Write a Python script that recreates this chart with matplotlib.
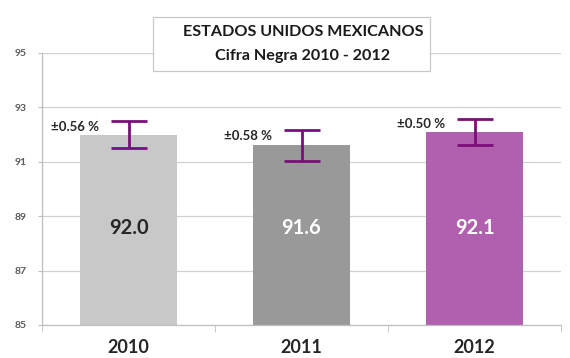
import matplotlib.pyplot as plt
from matplotlib.patches import FancyBboxPatch

years = ["2010", "2011", "2012"]
values = [92.0, 91.6, 92.1]
errors = [0.50, 0.56, 0.48]
error_labels = ["±0.56 %", "±0.58 %", "±0.50 %"]
bar_colors = ["#C8C8C8", "#999999", "#B160B0"]
value_colors = ["#262626", "white", "white"]
yticks = [85, 87, 89, 91, 93, 95]

plt.rcParams["font.family"] = ["Lato", "DejaVu Sans"]

fig = plt.figure(figsize=(5.7, 3.58), dpi=100)
ax = fig.add_axes([42 / 570, 1 - 325 / 358, 519 / 570, 272 / 358])

x = list(range(len(years)))
ax.bar(x, [v - 85 for v in values], bottom=85, width=0.555, color=bar_colors, zorder=2)
ax.errorbar(x, values, yerr=errors, fmt="none", ecolor="#7A0F7A",
            elinewidth=2, capsize=13, capthick=2, zorder=3)

for xi, v, e, lab, c in zip(x, values, errors, error_labels, value_colors):
    ax.annotate(lab, (xi, v + e), xytext=(-21, -4), textcoords="offset points",
                ha="right", va="center", fontsize=9.5, fontweight="bold", color="#262626")
    ax.text(xi, 88.57, f"{v:.1f}", ha="center", va="center",
            fontsize=14.5, fontweight="bold", color=c, zorder=4)

ax.set_xlim(-0.5, 2.5)
ax.set_ylim(85, 95)
ax.set_yticks(yticks)
ax.set_yticklabels([str(t) for t in yticks], fontsize=7.5, fontweight="bold", color="#595959")
ax.tick_params(axis="y", length=3, color="#BFBFBF", pad=8)
ax.grid(axis="y", color="#D0D0D0", linewidth=0.9, zorder=0)

ax.set_xticks(x)
ax.set_xticklabels(years, fontsize=13, fontweight="bold", color="#262626")
ax.tick_params(axis="x", length=0, pad=10)
ax.set_xticks([-0.5, 0.5, 1.5, 2.5], minor=True)
ax.tick_params(axis="x", which="minor", length=5, color="#BFBFBF")

for side in ["top", "right"]:
    ax.spines[side].set_visible(False)
for side in ["left", "bottom"]:
    ax.spines[side].set_color("#BFBFBF")
    ax.spines[side].set_linewidth(0.9)

box = FancyBboxPatch((153 / 570, 1 - 71 / 358), 277 / 570, 54 / 358,
                     boxstyle="square,pad=0", transform=fig.transFigure,
                     facecolor="white", edgecolor="#C8C8C8", linewidth=0.9, zorder=5)
fig.patches.append(box)
fig.text(303 / 570, 1 - 32 / 358, "ESTADOS UNIDOS MEXICANOS", ha="center", va="center",
         fontsize=11.6, fontweight="bold", color="#1A1A1A", zorder=6)
fig.text(303 / 570, 1 - 56 / 358, "Cifra Negra 2010 - 2012", ha="center", va="center",
         fontsize=11.6, fontweight="bold", color="#1A1A1A", zorder=6)

fig.savefig("out.png", dpi=100)
